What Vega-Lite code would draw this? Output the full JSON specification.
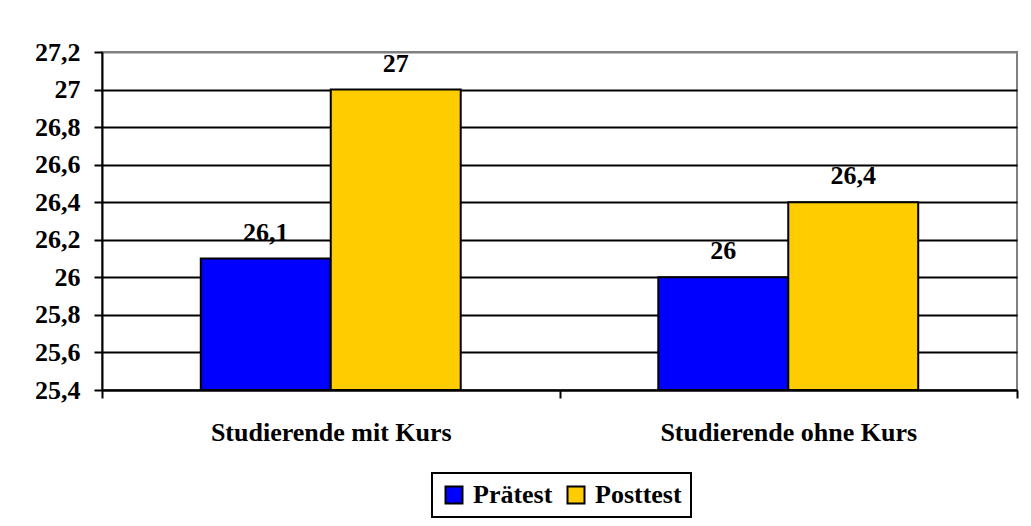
{
  "$schema": "https://vega.github.io/schema/vega-lite/v6.json",
  "autosize": {"type": "none"},
  "width": 915,
  "height": 338,
  "padding": {"left": 102, "top": 52, "right": 14, "bottom": 136},
  "background": "white",
  "data": {
    "values": [
      {"gruppe": "Studierende mit Kurs", "test": "Prätest", "wert": 26.1},
      {"gruppe": "Studierende mit Kurs", "test": "Posttest", "wert": 27.0},
      {"gruppe": "Studierende ohne Kurs", "test": "Prätest", "wert": 26.0},
      {"gruppe": "Studierende ohne Kurs", "test": "Posttest", "wert": 26.4}
    ]
  },
  "encoding": {
    "x": {
      "field": "gruppe",
      "type": "nominal",
      "sort": ["Studierende mit Kurs", "Studierende ohne Kurs"],
      "scale": {"paddingInner": 0, "paddingOuter": 0},
      "axis": {
        "title": null,
        "labelAngle": 0,
        "labelLimit": 0,
        "tickBand": "extent",
        "ticks": true,
        "tickSize": 8,
        "tickWidth": 2,
        "tickColor": "black",
        "domainColor": "black",
        "domainWidth": 2,
        "labelPadding": 21,
        "labelFont": "Liberation Serif",
        "labelFontWeight": "bold",
        "labelFontSize": 26,
        "labelColor": "black",
        "grid": false
      }
    },
    "xOffset": {
      "field": "test",
      "type": "nominal",
      "sort": ["Prätest", "Posttest"],
      "scale": {"paddingInner": 0, "paddingOuter": 0.76}
    },
    "y": {
      "field": "wert",
      "type": "quantitative",
      "scale": {"domain": [25.4, 27.2], "nice": false, "zero": false},
      "axis": {
        "title": null,
        "values": [25.4, 25.6, 25.8, 26.0, 26.2, 26.4, 26.6, 26.8, 27.0, 27.2],
        "format": ".1~f",
        "grid": true,
        "gridColor": {"condition": {"test": "datum.value >= 27.19", "value": "#808080"}, "value": "black"},
        "gridWidth": 2,
        "tickSize": 8,
        "tickWidth": 2,
        "tickColor": "black",
        "domainColor": "black",
        "domainWidth": 2,
        "labelPadding": 14,
        "labelFont": "Liberation Serif",
        "labelFontWeight": "bold",
        "labelFontSize": 26,
        "labelColor": "black"
      }
    }
  },
  "layer": [
    {
      "mark": {"type": "bar", "stroke": "black", "strokeWidth": 2},
      "encoding": {
        "y2": {"datum": 25.4},
        "color": {
          "field": "test",
          "type": "nominal",
          "sort": ["Prätest", "Posttest"],
          "scale": {"domain": ["Prätest", "Posttest"], "range": ["#0000FF", "#FFCC00"]},
          "legend": {
            "title": null,
            "orient": "none",
            "legendX": 330,
            "legendY": 421,
            "direction": "horizontal",
            "symbolType": "square",
            "symbolSize": 289,
            "symbolStrokeColor": "black",
            "symbolStrokeWidth": 2,
            "labelFont": "Liberation Serif",
            "labelFontWeight": "bold",
            "labelFontSize": 26,
            "labelColor": "black",
            "labelOffset": 6,
            "columnPadding": 10,
            "padding": 9,
            "strokeColor": "black",
            "fillColor": "white"
          }
        }
      }
    },
    {
      "mark": {
        "type": "text",
        "font": "Liberation Serif",
        "fontWeight": "bold",
        "fontSize": 26,
        "color": "black",
        "baseline": "alphabetic",
        "dy": -18
      },
      "encoding": {
        "text": {"field": "wert", "type": "quantitative", "format": ".1~f"}
      }
    }
  ],
  "config": {
    "locale": {
      "number": {"decimal": ",", "thousands": ".", "grouping": [3], "currency": ["", " €"]}
    },
    "view": {"stroke": "#808080", "strokeWidth": 2},
    "legend": {"strokeWidth": 2}
  }
}
